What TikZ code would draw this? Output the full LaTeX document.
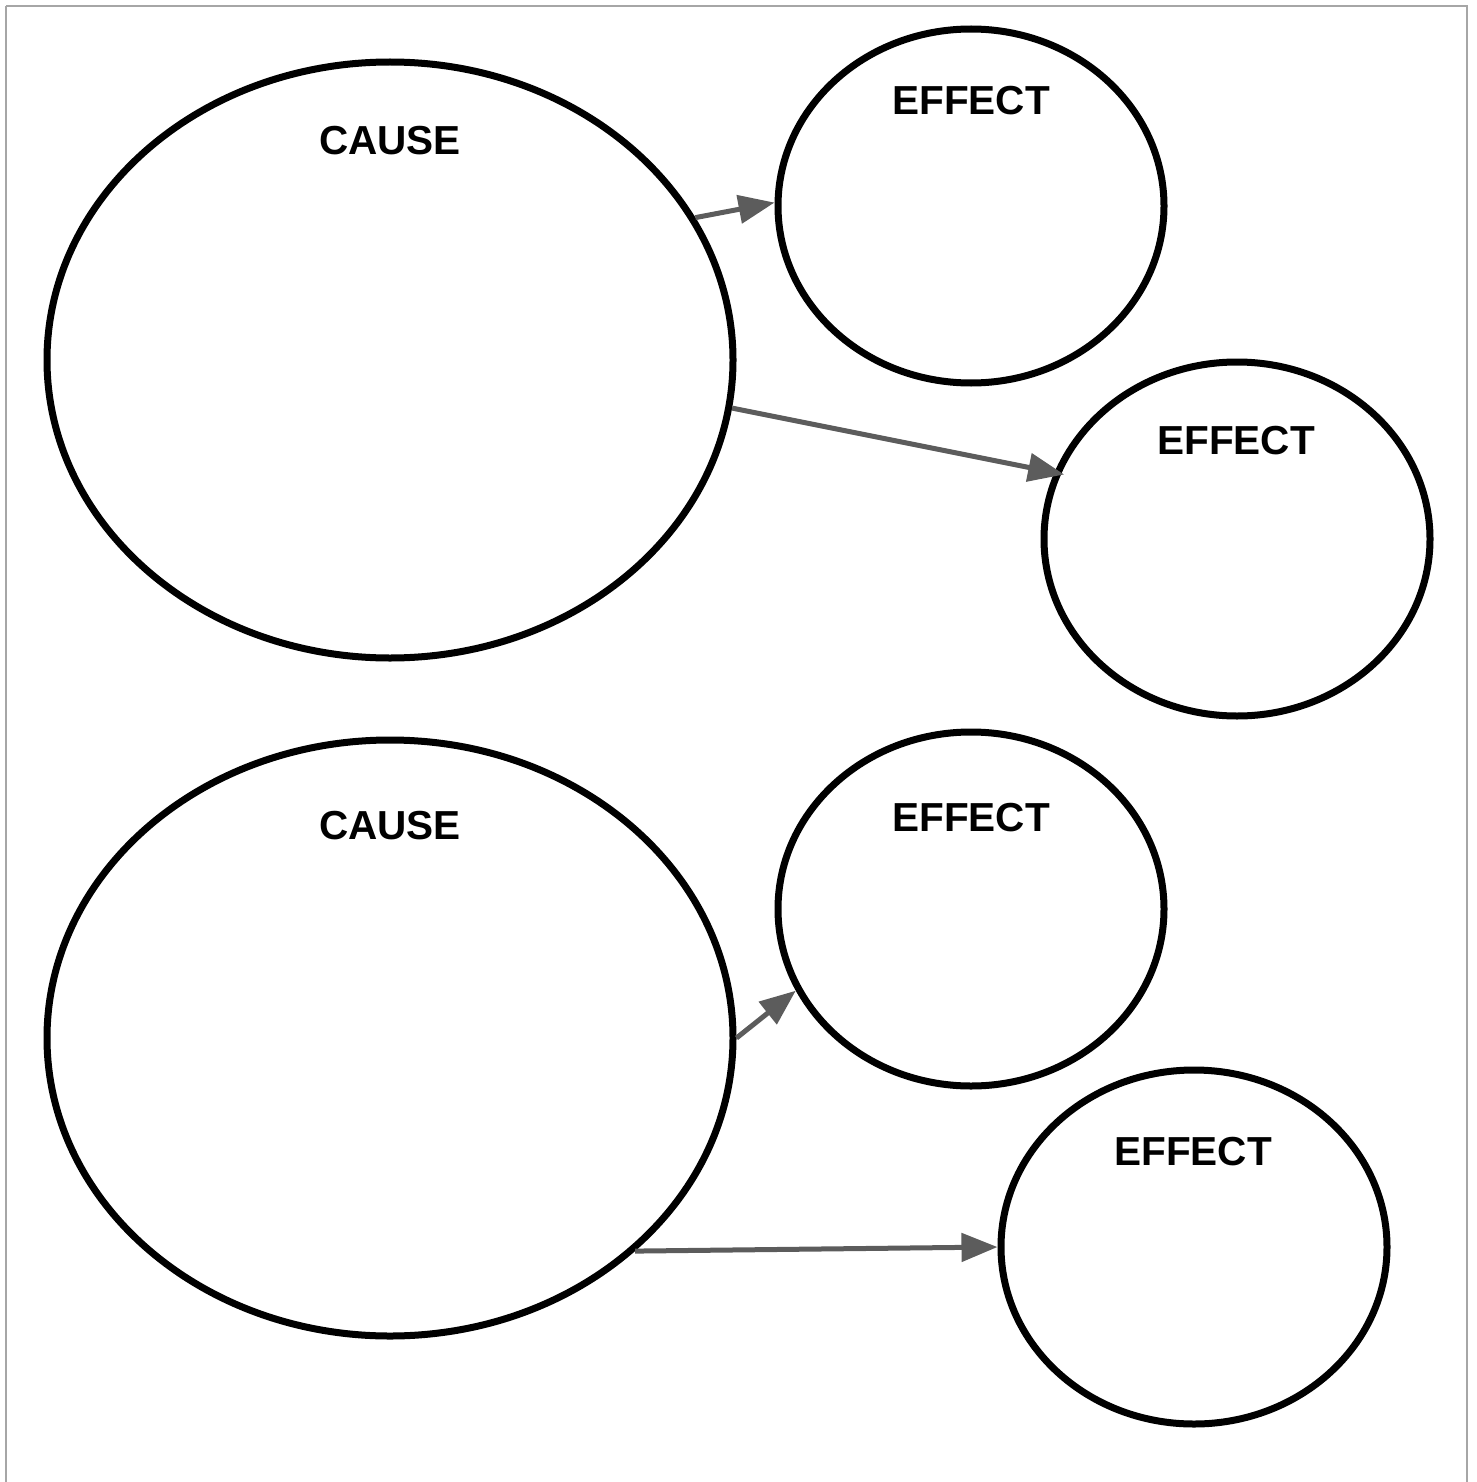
\documentclass[tikz,border=0pt]{standalone}
\usepackage{fontspec}
\setmainfont{Liberation Sans}
\usetikzlibrary{shapes.geometric,arrows.meta}
\begin{document}
\begin{tikzpicture}[x=1pt,y=-1pt,
  bubble/.style={ellipse,draw=black,line width=7pt,fill=none,inner sep=0pt},
  causeshape/.style={bubble,minimum width=686pt,minimum height=596pt},
  effectshape/.style={bubble,minimum width=386pt,minimum height=354pt},
  lbl/.style={font=\fontsize{40.5}{44}\selectfont\bfseries,inner sep=0pt,text depth=0pt},
  link/.style={draw=black!64,line width=5pt,-{Triangle[length=36pt,width=28pt]}}]
\useasboundingbox (0,0) rectangle (1476,1482);
\draw[black!35,line width=2pt] (6,6) -- (1467,6) -- (1467,1490);
\draw[black!35,line width=2pt] (6,6) -- (6,1490);
% nodes
\node[causeshape] (c1) at (390,360) {};
\node[effectshape] (e1) at (971,206) {};
\node[effectshape] (e2) at (1237,539) {};
\node[causeshape] (c2) at (390,1038) {};
\node[effectshape] (e3) at (971,909) {};
\node[effectshape] (e4) at (1194,1247) {};
% labels
\node[lbl] (c1l) at (390,140) {CAUSE};
\node[lbl] (c2l) at (390,825) {CAUSE};
\node[lbl] (e1l) at (971,100) {EFFECT};
\node[lbl] (e2l) at (1236,440) {EFFECT};
\node[lbl] (e3l) at (971,817) {EFFECT};
\node[lbl] (e4l) at (1193,1151) {EFFECT};
% connectors
\draw[link] (c1.25) -- (e1.179);
\draw[link,shorten >=-10pt] (c1.-8) -- (e2.160);
\draw[link] (c2.0) -- (e3.205);
\draw[link] (c2.-41) -- (e4.180);
\end{tikzpicture}
\end{document}
